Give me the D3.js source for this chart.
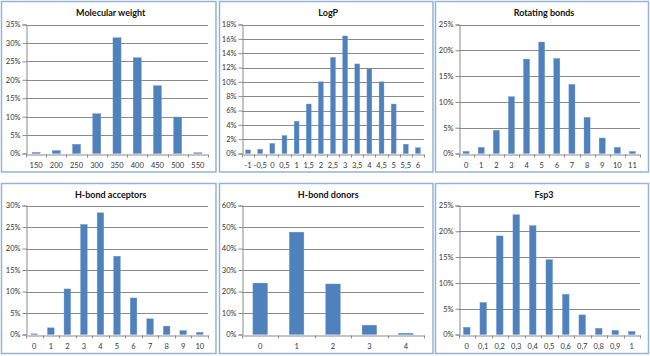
<!DOCTYPE html>
<html><head><meta charset="utf-8">
<script src="https://cdn.jsdelivr.net/npm/d3@7"></script>
<style>
html,body{margin:0;padding:0;background:#fff;}
svg{display:block;font-family:Lato,"Open Sans",sans-serif;}
</style></head>
<body>
<svg id="chart" width="650" height="356"></svg>
<script>
// ---- Data (percent of compounds) ----
const titles = ["Molecular  weight","LogP","Rotating bonds","H-bond acceptors","H-bond donors","Fsp3"];

const mwCategories = ["150","200","250","300","350","400","450","500","550"];
const mwValues     = [0.3, 0.8, 2.5, 10.8, 31.4, 26.0, 18.4, 9.9, 0.2];
const mwTicks      = [0,5,10,15,20,25,30,35];

const logpCategories = ["-1","-0,5","0","0,5","1","1,5","2","2,5","3","3,5","4","4,5","5","5,5","6"];
const logpValues     = [0.5, 0.6, 1.4, 2.5, 4.5, 6.9, 10.0, 13.4, 16.4, 12.5, 11.8, 10.0, 6.9, 1.3, 0.8];
const logpTicks      = [0,2,4,6,8,10,12,14,16,18];

const rotCategories = ["0","1","2","3","4","5","6","7","8","9","10","11"];
const rotValues     = [0.4, 1.2, 4.5, 11.0, 18.3, 21.6, 18.4, 13.4, 7.0, 3.0, 1.2, 0.4];
const rotTicks      = [0,5,10,15,20,25];

const hbaCategories = ["0","1","2","3","4","5","6","7","8","9","10"];
const hbaValues     = [0.15, 1.55, 10.6, 25.6, 28.3, 18.2, 8.5, 3.65, 1.95, 0.9, 0.5];
const hbaTicks      = [0,5,10,15,20,25,30];

const hbdCategories = ["0","1","2","3","4"];
const hbdValues     = [23.9, 47.6, 23.5, 4.35, 0.6];
const hbdTicks      = [0,10,20,30,40,50,60];

const fspCategories = ["0","0,1","0,2","0,3","0,4","0,5","0,6","0,7","0,8","0,9","1"];
const fspValues     = [1.4, 6.2, 19.1, 23.2, 21.1, 14.5, 7.8, 3.8, 1.2, 0.8, 0.6];
const fspTicks      = [0,5,10,15,20,25];

const panels = [
  {title:titles[0], cats:mwCategories,   vals:mwValues,   ticks:mwTicks},
  {title:titles[1], cats:logpCategories, vals:logpValues, ticks:logpTicks},
  {title:titles[2], cats:rotCategories,  vals:rotValues,  ticks:rotTicks},
  {title:titles[3], cats:hbaCategories,  vals:hbaValues,  ticks:hbaTicks},
  {title:titles[4], cats:hbdCategories,  vals:hbdValues,  ticks:hbdTicks},
  {title:titles[5], cats:fspCategories,  vals:fspValues,  ticks:fspTicks}
];

// ---- Layout ----
const colBox = [{x:1.5,w:214.5},{x:219.5,w:213.5},{x:435.5,w:213}];
const rowBox = [{y:1.5,h:170.5},{y:183.5,h:170}];
const plotX  = [{l:26,r:208},{l:242,r:424},{l:458.5,r:640}];
const plotY  = [{t:24.5,b:153.5},{t:205.5,b:334.5}];

const svg = d3.select("#chart");
const gridColor = "#8a8a8a";
const barColor = "#4f81bd";

panels.forEach((p,i)=>{
  const c = i%3, r = Math.floor(i/3);
  const box = {x:colBox[c].x, y:rowBox[r].y, w:colBox[c].w, h:rowBox[r].h};
  const L = plotX[c].l, R = plotX[c].r, T = plotY[r].t, B = plotY[r].b;
  const g = svg.append("g");

  g.append("rect").attr("x",box.x).attr("y",box.y).attr("width",box.w).attr("height",box.h)
    .attr("fill","#fff").attr("stroke","#95b3d7").attr("stroke-width",1.5);

  const x = d3.scaleBand().domain(p.cats).range([L,R]).paddingInner(0.6).paddingOuter(0.3);
  const yMax = p.ticks[p.ticks.length-1];
  const y = d3.scaleLinear().domain([0,yMax]).range([B,T]);

  // gridlines
  g.append("g").selectAll("line").data(p.ticks.filter(t=>t>0)).join("line")
    .attr("x1",L).attr("x2",R).attr("y1",d=>Math.round(y(d))+0.5).attr("y2",d=>Math.round(y(d))+0.5)
    .attr("stroke",gridColor).attr("stroke-width",1);

  // bars
  g.append("g").selectAll("rect").data(p.vals).join("rect")
    .attr("x",(d,k)=>x(p.cats[k]))
    .attr("width",x.bandwidth())
    .attr("y",d=>y(d))
    .attr("height",d=>B-y(d))
    .attr("fill",barColor)
    .attr("stroke","#6d97cc").attr("stroke-width",0.4);

  // y axis
  const ya = d3.axisLeft(y).tickValues(p.ticks).tickFormat(d=>d+"%").tickSize(4).tickPadding(2);
  const yg = g.append("g").attr("transform",`translate(${Math.round(L)+0.5},0)`).call(ya);
  yg.select(".domain").attr("stroke",gridColor);
  yg.selectAll(".tick line").attr("stroke",gridColor);
  yg.selectAll(".tick text").attr("font-size",7.5).attr("fill","#333").attr("font-family","Lato,sans-serif");

  // x axis
  const xa = d3.axisBottom(x).tickSize(0).tickPadding(8);
  const xg = g.append("g").attr("transform",`translate(0,${Math.round(B)+0.5})`).call(xa);
  xg.select(".domain").attr("stroke",gridColor);
  xg.selectAll(".tick text").attr("font-size",7.5).attr("fill","#333").attr("font-family","Lato,sans-serif");
  // category boundary tick marks
  const step = x.step();
  xg.append("g").selectAll("line").data(d3.range(p.cats.length+1)).join("line")
    .attr("x1",k=>Math.round(L+k*step*(R-L)/(step*p.cats.length))+0.5)
    .attr("x2",k=>Math.round(L+k*step*(R-L)/(step*p.cats.length))+0.5)
    .attr("y1",0).attr("y2",3).attr("stroke",gridColor);

  // title
  g.append("text").attr("x",box.x+box.w/2+2).attr("y",box.y+(r===0?14:14))
    .attr("text-anchor","middle").attr("font-weight","bold").attr("font-size",9)
    .attr("fill","#111").text(p.title);
});
</script>
</body></html>
